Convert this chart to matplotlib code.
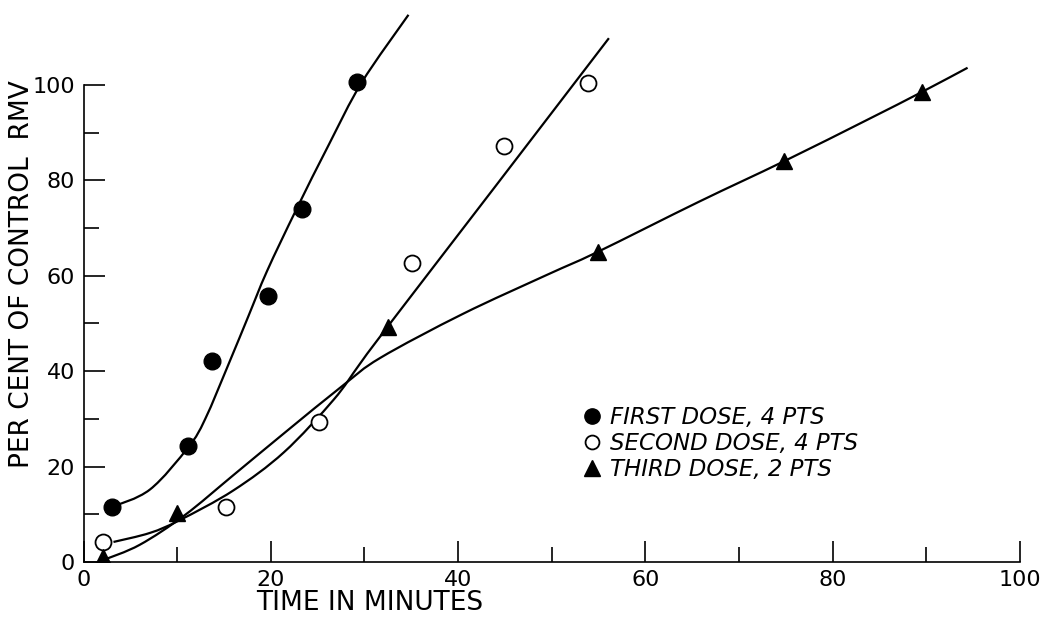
import numpy as np
import matplotlib.pyplot as plt
from matplotlib.lines import Line2D
from matplotlib.path import Path
from matplotlib.patches import PathPatch

plt.rcParams['font.family'] = ['DejaVu Sans']

# measured points
first_x = [3.0, 11.2, 13.7, 19.7, 23.3, 29.2]
first_y = [11.5, 24.3, 42.1, 55.8, 74.0, 100.6]
second_x = [2.1, 15.2, 25.1, 35.1, 44.9, 53.9]
second_y = [4.2, 11.5, 29.4, 62.6, 87.3, 100.4]
third_x = [2.1, 10.0, 32.5, 54.9, 74.8, 89.5]
third_y = [1.0, 10.3, 49.3, 65.0, 84.0, 98.5]

# hand drawn curves
first_curve_x = [3.0, 7.1, 11.2, 13.0, 15.6, 17.6, 19.6, 22.7, 26.2, 29.7, 34.7]
first_curve_y = [11.5, 15.2, 24.1, 30.0, 42.0, 51.5, 61.0, 73.8, 87.5, 100.5, 114.7]
second_curve_x = [3.2, 7.1, 10.3, 16.0, 21.4, 26.7, 29.5, 32.5, 44.0, 56.1]
second_curve_y = [4.2, 6.1, 8.8, 15.0, 23.0, 34.0, 41.5, 49.4, 78.8, 109.8]
third_curve_x = [2.1, 6.0, 10.8, 16.0, 21.3, 27.7, 31.7, 40.5, 49.5, 54.9, 65.7, 74.8, 83.7, 89.5, 94.4]
third_curve_y = [0.4, 3.6, 9.8, 18.2, 26.8, 37.0, 42.8, 52.0, 60.2, 65.0, 75.5, 84.0, 92.7, 98.5, 103.6]

labels = ['FIRST DOSE, 4 PTS', 'SECOND DOSE, 4 PTS', 'THIRD DOSE, 2 PTS']


def smooth_path(xs, ys):
    # catmull-rom through the read points, handed to matplotlib as bezier segments
    p = np.column_stack([xs, ys]).astype(float)
    p = np.vstack([p[0], p, p[-1]])
    verts = [p[1]]
    codes = [Path.MOVETO]
    for i in range(1, len(p) - 2):
        c1 = p[i] + (p[i + 1] - p[i - 1]) / 6
        c2 = p[i + 1] - (p[i + 2] - p[i]) / 6
        verts += [c1, c2, p[i + 1]]
        codes += [Path.CURVE4] * 3
    return Path(verts, codes)


fig = plt.figure(figsize=(10.4, 6.19), dpi=100)
ax = fig.add_axes([0.0803, 0.0921, 0.9005, 0.894])

for cx, cy in [(first_curve_x, first_curve_y), (second_curve_x, second_curve_y),
               (third_curve_x, third_curve_y)]:
    ax.add_patch(PathPatch(smooth_path(cx, cy), fc='none', ec='black', lw=1.6))

ax.plot(first_x, first_y, 'o', color='black', ms=12, ls='none', zorder=3)
ax.plot(second_x, second_y, 'o', mfc='white', mec='black', mew=1.3, ms=11.5, ls='none', zorder=3)
ax.plot(third_x, third_y, '^', color='black', ms=12, ls='none', zorder=3)

ax.set_xlim(0, 100)
ax.set_ylim(0, 116)
ax.spines['top'].set_visible(False)
ax.spines['right'].set_visible(False)
ax.spines['left'].set_bounds(0, 100)
ax.spines['bottom'].set_bounds(0, 100)
for s in ['left', 'bottom']:
    ax.spines[s].set_linewidth(1.2)

ax.set_xticks(range(0, 101, 20))
ax.set_xticks(range(10, 100, 20), minor=True)
ax.set_yticks(range(0, 101, 20))
ax.set_yticks(range(10, 100, 20), minor=True)
ax.tick_params(which='major', direction='in', length=15, width=1.2, labelsize=16, pad=6)
ax.tick_params(which='minor', direction='in', length=11, width=1.2)

ax.set_xlabel('TIME IN MINUTES', fontsize=19)
ax.set_ylabel('PER CENT OF CONTROL  RMV', fontsize=19)
ax.xaxis.set_label_coords(0.306, -0.05)
ax.yaxis.set_label_coords(-0.052, 0.52)

handles = [
    Line2D([], [], marker='o', color='black', ls='none', ms=11),
    Line2D([], [], marker='o', mfc='white', mec='black', mew=1.3, ls='none', ms=10),
    Line2D([], [], marker='^', color='black', ls='none', ms=11),
]
ax.legend(handles, labels, loc='upper left', bbox_to_anchor=(0.533, 0.281),
          frameon=False, prop={'style': 'italic', 'size': 16.5},
          handlelength=0.8, handletextpad=0.4, labelspacing=0.12,
          borderpad=0, borderaxespad=0)

plt.savefig('out.png', dpi=100)
